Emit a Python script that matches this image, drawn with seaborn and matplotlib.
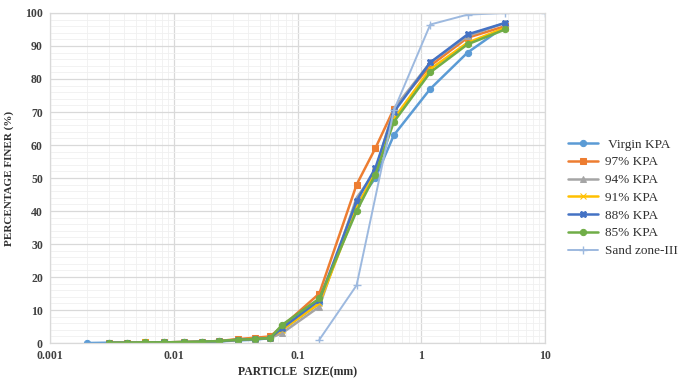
import numpy as np
import pandas as pd
import matplotlib
matplotlib.use("Agg")
import matplotlib.pyplot as plt
import seaborn as sns
from matplotlib.ticker import FixedLocator, MultipleLocator, NullFormatter

# sieve sizes (mm) and hydrometer sizes (mm)
sieve = [4.75, 2.36, 1.18, 0.6, 0.425, 0.3, 0.15, 0.075]
hydro = [0.06, 0.045, 0.033, 0.023, 0.017, 0.012, 0.0083, 0.0059, 0.0042, 0.003]

virgin = [96, 88, 77, 63, 50, 42, 12, 4] + [1.5, 1.0, 0.8, 0.5, 0.3, 0.2, 0.2, 0.1, 0.1, 0.1]
kpa97 = [96, 92.5, 84, 71, 59, 48, 15, 5] + [2.0, 1.6, 1.2, 0.6, 0.4, 0.3, 0.2, 0.2, 0.1, 0.1]
kpa94 = [97, 93, 85, 71, 52, 44, 11, 3] + [1.5, 1.2, 1.0, 0.5, 0.4, 0.3, 0.2, 0.1, 0.1, 0.1]
kpa91 = [95.5, 91, 83, 68, 52, 41, 12, 4] + [1.6, 1.3, 1.0, 0.6, 0.4, 0.3, 0.2, 0.2, 0.1, 0.1]
kpa88 = [97, 93.5, 85, 70, 53, 43, 13, 4.5] + [1.5, 1.2, 1.0, 0.5, 0.4, 0.3, 0.2, 0.1, 0.1, 0.1]
kpa85 = [95, 90.5, 82, 67, 51, 40, 13.5, 5.5] + [1.5, 1.2, 1.0, 0.6, 0.4, 0.3, 0.2, 0.2, 0.1, 0.1]

virgin_x = sieve + hydro + [0.002]
virgin = virgin + [0]

sand_x = [10, 4.75, 2.36, 1.18, 0.6, 0.3, 0.15]
sand = [100, 100, 99.5, 96.5, 70.5, 17.5, 1]

sns.set_style("white")
plt.rcParams['font.family'] = ['Liberation Serif', 'DejaVu Serif']

fig = plt.figure(figsize=(6.84, 3.82), dpi=100)
ax = fig.add_axes([0.073, 0.102, 0.724, 0.864])

series = [
    (" Virgin KPA", virgin_x, virgin, "#5B9BD5", "o"),
    ("97% KPA", sieve + hydro, kpa97, "#ED7D31", "s"),
    ("94% KPA", sieve + hydro, kpa94, "#A5A5A5", "^"),
    ("91% KPA", sieve + hydro, kpa91, "#FFC000", "x"),
    ("88% KPA", sieve + hydro, kpa88, "#4472C4", "X"),
    ("85% KPA", sieve + hydro, kpa85, "#70AD47", "o"),
]
for name, xs, ys, col, mk in series:
    sns.lineplot(x=xs, y=ys, ax=ax, color=col, marker=mk, markersize=4.5,
                 markeredgecolor=col, linewidth=1.8, label=name, sort=False)

sns.lineplot(x=sand_x, y=sand, ax=ax, color="#9DB9DF", marker="+", markersize=6,
             markeredgecolor="#9DB9DF", markeredgewidth=1, linewidth=1.4,
             label="Sand zone-III", sort=False)

ax.set_xscale("log")
ax.set_xlim(0.001, 10)
ax.set_ylim(0, 100)
ax.xaxis.set_major_locator(FixedLocator([0.001, 0.01, 0.1, 1, 10]))
ax.set_xticklabels(["0.001", "0.01", "0.1", "1", "10"])
ax.xaxis.set_minor_locator(FixedLocator(
    [m * 10.0 ** e for e in range(-3, 1) for m in range(2, 10)]))
ax.xaxis.set_minor_formatter(NullFormatter())
ax.yaxis.set_major_locator(MultipleLocator(10))
ax.yaxis.set_minor_locator(MultipleLocator(2))

ax.grid(which="major", color="#D9D9D9", linewidth=0.9)
ax.grid(which="minor", color="#F0F0F0", linewidth=0.6)
ax.set_axisbelow(True)
for s in ax.spines.values():
    s.set_color("#D9D9D9")
    s.set_linewidth(0.9)

ax.tick_params(which="both", length=0, pad=5, labelsize=8.5, labelcolor="#404040")
for lab in ax.get_xticklabels() + ax.get_yticklabels():
    lab.set_fontweight("bold")

ax.set_xlabel("PARTICLE  SIZE(mm)", fontsize=8.5, fontweight="bold", color="#303030", labelpad=3)
ax.set_ylabel("PERCENTAGE FINER (%)", fontsize=8, fontweight="bold", color="#303030", labelpad=8)

ax.legend(loc="center left", bbox_to_anchor=(1.035, 0.44), frameon=False,
          fontsize=9.5, handlelength=2.3, handletextpad=0.5, labelspacing=0.42,
          borderaxespad=0, labelcolor="#303030")

fig.savefig("out.png", dpi=100)
